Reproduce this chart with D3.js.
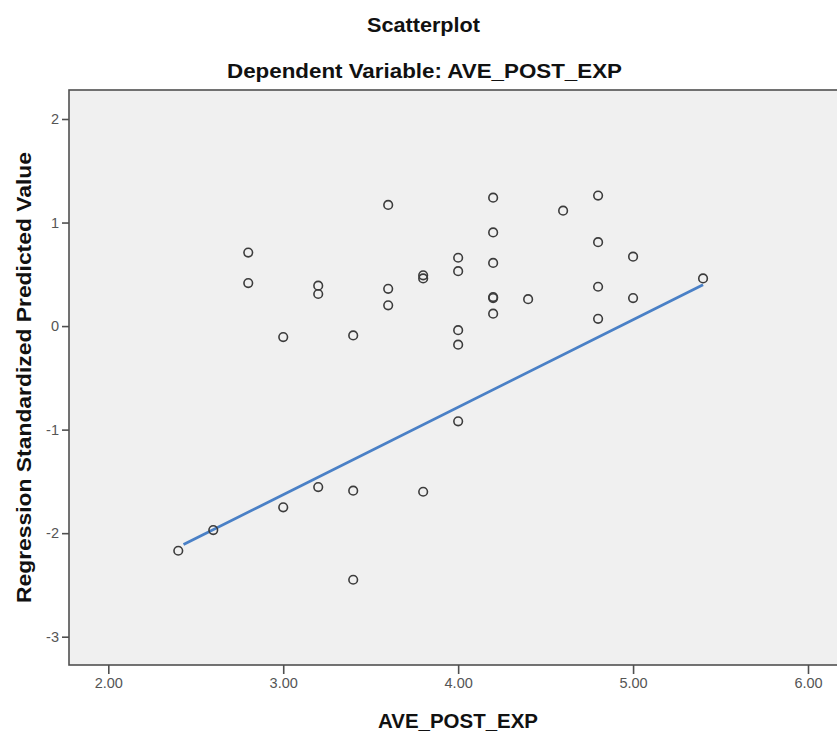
<!DOCTYPE html>
<html>
<head>
<meta charset="utf-8">
<script src="https://cdn.jsdelivr.net/npm/d3@7"></script>
<style>
  html, body { margin: 0; padding: 0; background: #fff; overflow: hidden; }
  svg { display: block; }
</style>
</head>
<body>
<svg id="chart" width="837" height="736"></svg>
<script>
// ---- Data ----
const xValues = [
  2.4,
  2.6,
  2.8, 2.8,
  3.0, 3.0,
  3.2, 3.2, 3.2,
  3.4, 3.4, 3.4,
  3.6, 3.6, 3.6,
  3.8, 3.8, 3.8,
  4.0, 4.0, 4.0, 4.0, 4.0,
  4.2, 4.2, 4.2, 4.2, 4.2, 4.2,
  4.4,
  4.6,
  4.8, 4.8, 4.8, 4.8,
  5.0, 5.0,
  5.4
];
const yValues = [
  -2.17,
  -1.97,
  0.71, 0.415,
  -0.106, -1.75,
  0.39, 0.31, -1.555,
  -0.09, -1.59, -2.45,
  1.17, 0.36, 0.20,
  0.49, 0.46, -1.60,
  0.66, 0.53, -0.04, -0.18, -0.92,
  1.24, 0.905, 0.61, 0.28, 0.27, 0.12,
  0.26,
  1.115,
  1.26, 0.81, 0.38, 0.07,
  0.67, 0.27,
  0.46
];
const fitX = [2.43, 5.40];
const fitY = [-2.11, 0.40];
const xTicks = [2, 3, 4, 5, 6];
const yTicks = [-3, -2, -1, 0, 1, 2];
const titleText = "Scatterplot";
const subtitleText = "Dependent Variable: AVE_POST_EXP";
const xLabel = "AVE_POST_EXP";
const yLabel = "Regression Standardized Predicted Value";

// ---- Layout ----
const svg = d3.select("#chart");
const plot = { left: 69, top: 90, right: 845, bottom: 665 };

const x = d3.scaleLinear().domain([2, 6]).range([108.3, 808]);
const y = d3.scaleLinear().domain([-3, 2]).range([636.7, 119]);

const font = "'Liberation Sans', Arial, sans-serif";

// plot background + frame
svg.append("rect")
  .attr("x", plot.left).attr("y", plot.top)
  .attr("width", plot.right - plot.left).attr("height", plot.bottom - plot.top)
  .attr("fill", "#f0f0f0")
  .attr("stroke", "#505050")
  .attr("stroke-width", 1.6);

// axes
const xAxis = d3.axisBottom(x).tickValues(xTicks).tickSize(9).tickPadding(4)
  .tickFormat(d => d.toFixed(2));
const yAxis = d3.axisLeft(y).tickValues(yTicks).tickSize(7).tickPadding(3)
  .tickFormat(d => String(d));

const gx = svg.append("g").attr("transform", `translate(0,${plot.bottom})`).call(xAxis);
const gy = svg.append("g").attr("transform", `translate(${plot.left},0)`).call(yAxis);

[gx, gy].forEach(g => {
  g.select(".domain").remove();
  g.selectAll(".tick line").attr("stroke", "#505050").attr("stroke-width", 1.6);
  g.selectAll(".tick text")
    .attr("fill", "#555")
    .style("font-family", font)
    .style("font-size", "14.5px");
});

// regression line
const line = d3.line().x(d => x(d[0])).y(d => y(d[1]));
svg.append("path")
  .datum(fitX.map((v, i) => [v, fitY[i]]))
  .attr("d", line)
  .attr("fill", "none")
  .attr("stroke", "#4a80c6")
  .attr("stroke-width", 2.8);

// points
svg.append("g").selectAll("circle")
  .data(xValues.map((v, i) => [v, yValues[i]]))
  .join("circle")
  .attr("cx", d => x(d[0]))
  .attr("cy", d => y(d[1]))
  .attr("r", 4.3)
  .attr("fill", "none")
  .attr("stroke", "#3c3c3c")
  .attr("stroke-width", 1.6);

// titles
svg.append("text")
  .attr("x", 423.5).attr("y", 32)
  .attr("text-anchor", "middle")
  .style("font-family", font).style("font-weight", "bold").style("font-size", "21px")
  .attr("fill", "#111")
  .attr("textLength", 113).attr("lengthAdjust", "spacingAndGlyphs")
  .text(titleText);

svg.append("text")
  .attr("x", 424.5).attr("y", 77.5)
  .attr("text-anchor", "middle")
  .style("font-family", font).style("font-weight", "bold").style("font-size", "21px")
  .attr("fill", "#111")
  .attr("textLength", 395).attr("lengthAdjust", "spacingAndGlyphs")
  .text(subtitleText);

// axis labels
svg.append("text")
  .attr("x", 458).attr("y", 728)
  .attr("text-anchor", "middle")
  .style("font-family", font).style("font-weight", "bold").style("font-size", "21px")
  .attr("fill", "#111")
  .attr("textLength", 160).attr("lengthAdjust", "spacingAndGlyphs")
  .text(xLabel);

svg.append("text")
  .attr("transform", "translate(31,377.5) rotate(-90)")
  .attr("text-anchor", "middle")
  .style("font-family", font).style("font-weight", "bold").style("font-size", "21px")
  .attr("fill", "#111")
  .attr("textLength", 451).attr("lengthAdjust", "spacingAndGlyphs")
  .text(yLabel);
</script>
</body>
</html>
